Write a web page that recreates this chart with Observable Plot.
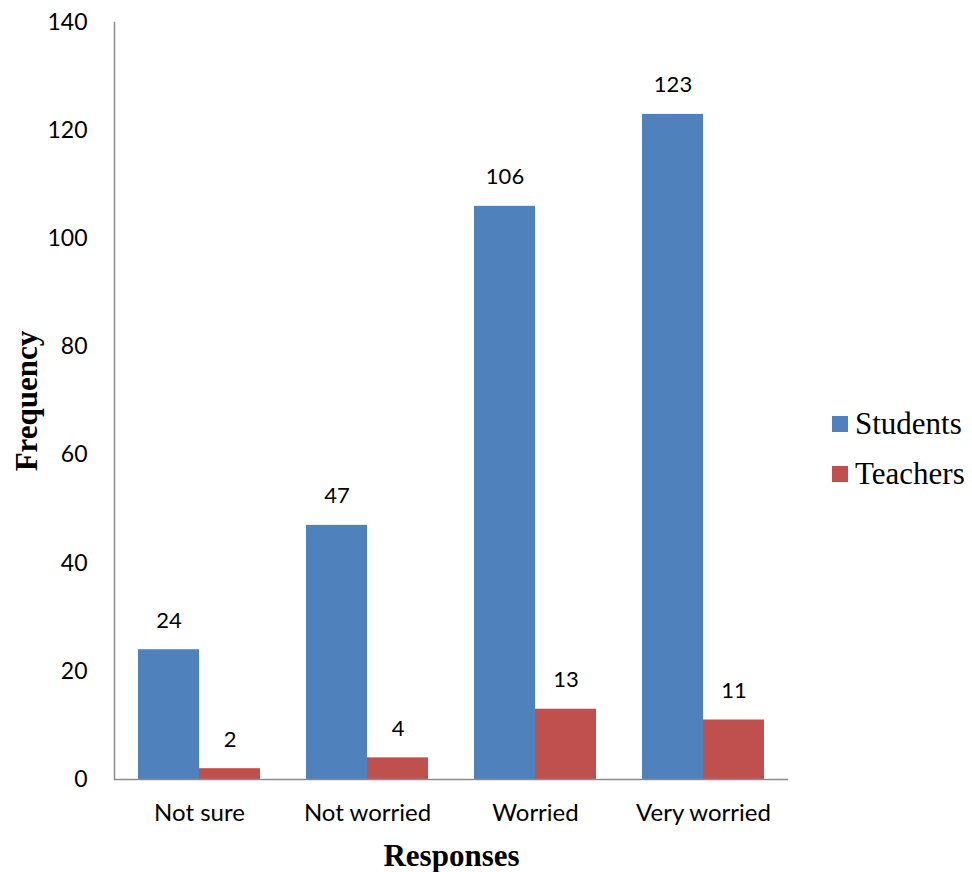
<!DOCTYPE html>
<html>
<head>
<meta charset="utf-8">
<script src="https://cdn.jsdelivr.net/npm/d3@7"></script>
<script src="https://cdn.jsdelivr.net/npm/@observablehq/plot@0.6"></script>
<style>
  html, body { margin: 0; padding: 0; background: #fff; }
  #wrap { position: relative; width: 972px; height: 872px; }
  #wrap svg { font-family: Lato, "Open Sans", sans-serif; overflow: visible; }
  #wrap g[aria-label="x-axis tick label"] text { font-size: 24px; }
  #wrap g[aria-label="y-axis label"] text,
  #wrap g[aria-label="x-axis label"] text {
    font-family: "Liberation Serif", "DejaVu Serif", serif;
    font-weight: bold;
    font-size: 31px;
  }
  .legend { position: absolute; left: 832px; top: 399px; font-family: "Liberation Serif", serif; font-size: 31px; color: #000; }
  .legend div { display: flex; align-items: center; height: 50px; }
  .legend span.sw { display: inline-block; width: 16px; height: 16px; margin-right: 7px; }
</style>
</head>
<body>
<div id="wrap"></div>
<script>
// Responses and frequencies per group
const responses = ["Not sure", "Not worried", "Worried", "Very worried"];
const students = [24, 47, 106, 123];
const teachers = [2, 4, 13, 11];
const yTicks = [0, 20, 40, 60, 80, 100, 120, 140];
const seriesNames = ["Students", "Teachers"];
const seriesColors = ["#4f81bd", "#c0504d"];

const studentRows = responses.map((r, i) => ({response: r, value: students[i]}));
const teacherRows = responses.map((r, i) => ({response: r, value: teachers[i]}));

const half = 61; // half of each group's width: one bar per side

const chart = Plot.plot({
  width: 972,
  height: 872,
  marginLeft: 114,
  marginRight: 184,
  marginTop: 22,
  marginBottom: 93,
  style: {fontSize: "23px", color: "#000", background: "#fff"},
  x: {
    domain: responses,
    paddingInner: 0.276,
    paddingOuter: 0.138,
    label: "Responses",
    labelAnchor: "center",
    labelOffset: 86,
    tickSize: 0,
    tickPadding: 24
  },
  y: {
    domain: [0, 140],
    ticks: yTicks,
    tickSize: 0,
    tickPadding: 27,
    label: "Frequency",
    labelAnchor: "center",
    labelArrow: "none",
    labelOffset: 100
  },
  marks: [
    Plot.barY(studentRows, {x: "response", y: "value", fill: seriesColors[0], insetRight: half}),
    Plot.barY(teacherRows, {x: "response", y: "value", fill: seriesColors[1], insetLeft: half}),
    Plot.text(studentRows, {x: "response", y: "value", text: d => String(d.value), dx: -half / 2, dy: -29, fontSize: 22}),
    Plot.text(teacherRows, {x: "response", y: "value", text: d => String(d.value), dx: half / 2, dy: -29, fontSize: 22}),
    Plot.frame({anchor: "left", stroke: "#8c8c8c", strokeWidth: 1.5}),
    Plot.ruleY([0], {stroke: "#8c8c8c", strokeWidth: 1.5})
  ]
});
document.getElementById("wrap").appendChild(chart);

// Legend to the right of the plot area
const legend = document.createElement("div");
legend.className = "legend";
seriesNames.forEach((name, i) => {
  const row = document.createElement("div");
  const sw = document.createElement("span");
  sw.className = "sw";
  sw.style.background = seriesColors[i];
  row.appendChild(sw);
  row.appendChild(document.createTextNode(name));
  legend.appendChild(row);
});
document.getElementById("wrap").appendChild(legend);
</script>
</body>
</html>
